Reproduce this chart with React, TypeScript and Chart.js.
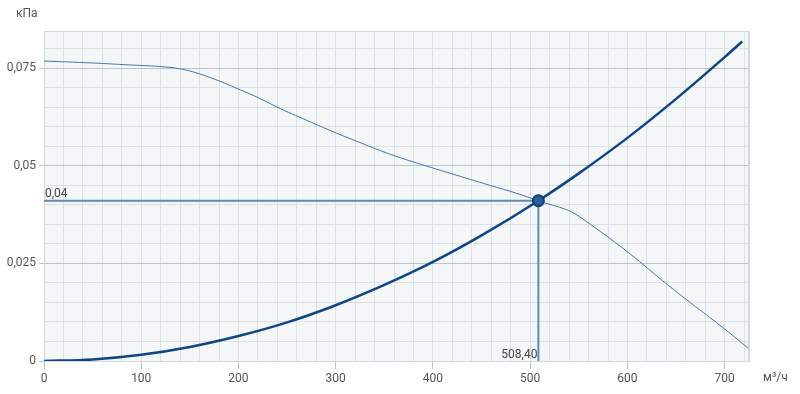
import React, { useEffect, useRef } from "react";
import { Chart, registerables } from "chart.js";

Chart.register(...registerables);

// Fan curve (flow m³/h, pressure kPa)
const fanFlow = [0, 50, 88, 119, 140, 160, 181, 202, 222, 243, 274, 301, 322, 339, 363, 397, 418, 459, 486, 508.4, 514, 534, 545, 562, 582, 603, 622, 641, 665, 699, 724];
const fanPressure = [0.0769, 0.0764, 0.0759, 0.0755, 0.0749, 0.0736, 0.0717, 0.0695, 0.0673, 0.0647, 0.0613, 0.0584, 0.0563, 0.0546, 0.0524, 0.0497, 0.0481, 0.045, 0.043, 0.0411, 0.0406, 0.0391, 0.0379, 0.035, 0.0314, 0.0274, 0.0235, 0.0196, 0.0149, 0.0084, 0.0033];

// System curve
const sysFlow = [0, 50, 100, 150, 200, 250, 300, 350, 400, 450, 508.4, 550, 600, 650, 700, 718];
const sysPressure = [0, 0.0004, 0.0016, 0.0036, 0.0064, 0.0099, 0.0143, 0.0195, 0.0254, 0.0322, 0.0411, 0.0481, 0.0572, 0.0672, 0.0779, 0.0819];

// Operating point
const opFlow = 508.4;
const opPressure = 0.0411;

const xMin = 0;
const xMax = 725;
const yMin = 0;
const yMax = 0.0846;
const xStep = 20;
const xMajor = 100;
const yStep = 0.005;
const yMajor = 0.025;

const yUnit = "кПа";
const xUnit = "м³/ч";

const fmt = (v: number, d?: number) =>
  (d === undefined ? String(Number(v.toFixed(4))) : v.toFixed(d)).replace(".", ",");

const isMajorY = (v: number) => Math.abs(v / yMajor - Math.round(v / yMajor)) < 1e-6;
const isMajorX = (v: number) => Math.abs(v / xMajor - Math.round(v / xMajor)) < 1e-6;

const FONT = "Roboto, 'Open Sans', sans-serif";

const decorPlugin = {
  id: "decor",
  beforeDraw(chart: any) {
    const { ctx, chartArea: a } = chart;
    ctx.save();
    ctx.fillStyle = "#f4f6f8";
    ctx.fillRect(a.left, a.top, a.right - a.left, a.bottom - a.top);
    ctx.restore();
  },
  beforeDatasetsDraw(chart: any) {
    const { ctx, chartArea: a } = chart;
    ctx.save();
    ctx.strokeStyle = "#d3d7dc";
    ctx.lineWidth = 1;
    ctx.beginPath();
    ctx.moveTo(a.left, Math.round(a.top) + 0.5);
    ctx.lineTo(a.right, Math.round(a.top) + 0.5);
    ctx.stroke();
    ctx.lineWidth = 2;
    ctx.beginPath();
    ctx.moveTo(Math.round(a.right), a.top);
    ctx.lineTo(Math.round(a.right), a.bottom);
    ctx.stroke();
    ctx.restore();
  },
  afterDraw(chart: any) {
    const { ctx, chartArea: a, scales } = chart;
    const x = scales.x;
    const y = scales.y;
    ctx.save();
    ctx.font = `12px ${FONT}`;
    ctx.fillStyle = "#555";
    ctx.textBaseline = "middle";
    ctx.textAlign = "left";
    ctx.fillText(yUnit, a.left - 28, a.top - 17);
    ctx.fillText(xUnit, a.right + 14, a.bottom + 17);
    ctx.fillStyle = "#444";
    ctx.textBaseline = "alphabetic";
    ctx.textAlign = "left";
    ctx.fillText(fmt(opPressure, 2), x.getPixelForValue(xMin) + 1, y.getPixelForValue(opPressure) - 4);
    ctx.textAlign = "right";
    ctx.fillText(fmt(opFlow, 2), x.getPixelForValue(opFlow) - 1, y.getPixelForValue(0) - 3);
    ctx.restore();
  },
};

export default function App() {
  const ref = useRef<HTMLCanvasElement | null>(null);

  useEffect(() => {
    document.body.style.margin = "0";
    if (!ref.current) return;
    const refColor = "#5f8ab9";
    const chart = new Chart(ref.current, {
      type: "line",
      data: {
        datasets: [
          {
            label: "op",
            data: [{ x: opFlow, y: opPressure }],
            showLine: false,
            pointRadius: 5.5,
            pointBackgroundColor: "#2c5f9a",
            pointBorderColor: "#0b3f7d",
            pointBorderWidth: 2,
            order: 0,
          },
          {
            label: "system",
            data: sysFlow.map((f, i) => ({ x: f, y: sysPressure[i] })),
            borderColor: "#0e4584",
            borderWidth: 2.5,
            pointRadius: 0,
            cubicInterpolationMode: "monotone",
            order: 1,
          },
          {
            label: "fan",
            data: fanFlow.map((f, i) => ({ x: f, y: fanPressure[i] })),
            borderColor: "#4675aa",
            borderWidth: 1,
            pointRadius: 0,
            tension: 0.4,
            order: 2,
          },
          {
            label: "refH",
            data: [
              { x: xMin, y: opPressure },
              { x: opFlow, y: opPressure },
            ],
            borderColor: refColor,
            borderWidth: 2,
            pointRadius: 0,
            order: 3,
          },
          {
            label: "refV",
            data: [
              { x: opFlow, y: yMin },
              { x: opFlow, y: opPressure },
            ],
            borderColor: refColor,
            borderWidth: 2,
            pointRadius: 0,
            order: 3,
          },
        ],
      },
      options: {
        animation: false,
        responsive: true,
        maintainAspectRatio: false,
        layout: { padding: { top: 31, right: 51, left: 0, bottom: 0 } },
        plugins: { legend: { display: false }, tooltip: { enabled: false } },
        scales: {
          x: {
            type: "linear",
            min: xMin,
            max: xMax,
            afterFit: (s: any) => {
              s.height = 33;
            },
            border: { display: true, color: "#d3d7dc", width: 1 },
            grid: {
              color: "#dde0e4",
              lineWidth: 1,
              tickLength: 8,
              tickColor: (c: any) => (c.tick && isMajorX(c.tick.value) ? "#b9c3ce" : "rgba(0,0,0,0)"),
            },
            ticks: {
              stepSize: xStep,
              includeBounds: false,
              autoSkip: false,
              maxRotation: 0,
              padding: 3,
              color: "#555",
              font: { family: FONT, size: 12 },
              callback: (v: any) => (isMajorX(Number(v)) ? String(v) : ""),
            },
          },
          y: {
            type: "linear",
            min: yMin,
            max: yMax,
            afterFit: (s: any) => {
              s.width = 44;
            },
            border: { display: true, color: "#d3d7dc", width: 1 },
            grid: {
              color: (c: any) => (c.tick && isMajorY(c.tick.value) ? "#b9c3ce" : "#dde0e4"),
              lineWidth: 1,
              tickLength: 5,
              tickColor: (c: any) => (c.tick && isMajorY(c.tick.value) ? "#b9c3ce" : "rgba(0,0,0,0)"),
            },
            ticks: {
              stepSize: yStep,
              includeBounds: false,
              autoSkip: false,
              padding: 3,
              color: "#555",
              font: { family: FONT, size: 12 },
              callback: (v: any) => (isMajorY(Number(v)) ? fmt(Number(v)) : ""),
            },
          },
        },
      },
      plugins: [decorPlugin],
    } as any);
    return () => chart.destroy();
  }, []);

  return (
    <div style={{ position: "fixed", left: 0, top: 0, width: 800, height: 394 }}>
      <canvas ref={ref} />
    </div>
  );
}
